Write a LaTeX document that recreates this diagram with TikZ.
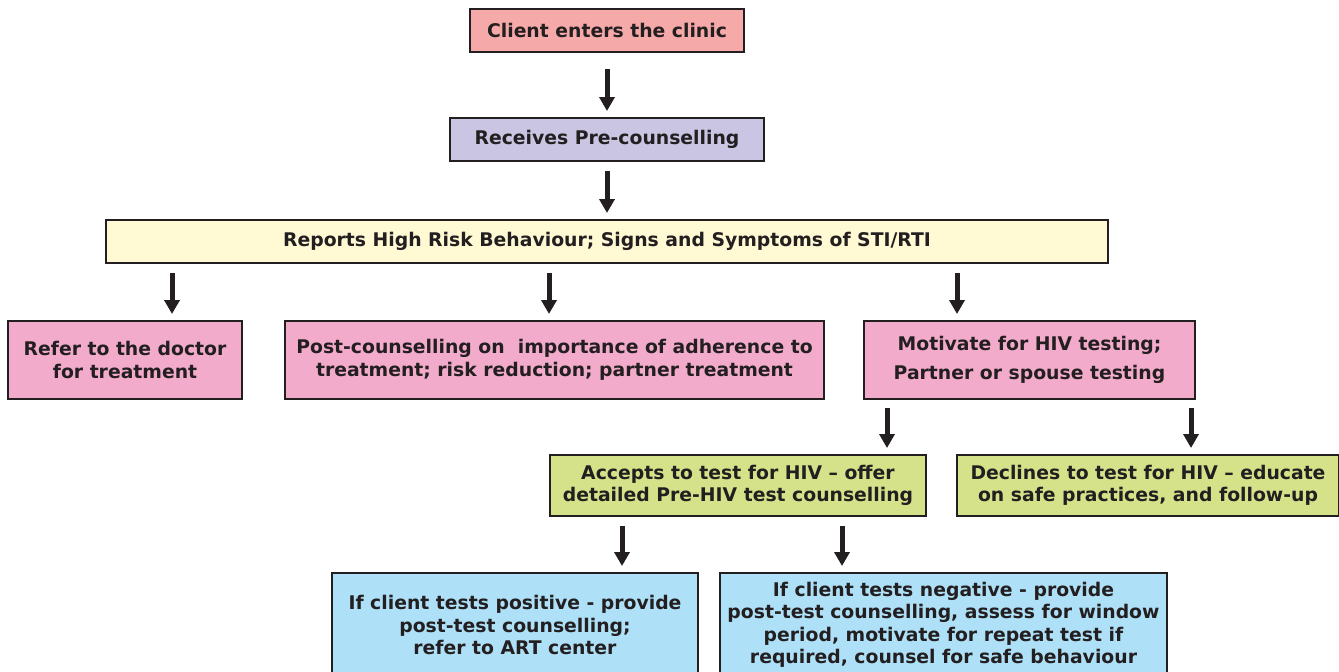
\documentclass[tikz,border=0pt]{standalone}
\usepackage{fontspec}
\setmainfont{DejaVu Sans}
\usetikzlibrary{arrows.meta}
\definecolor{inkc}{HTML}{231F20}
\definecolor{clientc}{HTML}{F6A9A9}
\definecolor{prec}{HTML}{C9C5E2}
\definecolor{riskc}{HTML}{FFF9D4}
\definecolor{pinkc}{HTML}{F3ABCC}
\definecolor{greenc}{HTML}{D5E28A}
\definecolor{bluec}{HTML}{AEE0F8}
\tikzset{
  box/.style={draw=inkc, line width=2pt, text=inkc, align=center, inner sep=0pt,
    font=\bfseries\fontsize{18.8}{22.5}\selectfont},
  arr/.style={draw=inkc, line width=5pt, -{Triangle[width=15pt,length=14pt]},
    shorten <=9pt, shorten >=6pt}
}
\begin{document}
\begin{tikzpicture}[x=1pt,y=-1pt]
\useasboundingbox (0,0) rectangle (1339,672);
\node (client) at (607,30.5) [box, fill=clientc, minimum width=274pt, minimum height=43pt] {Client enters the clinic};
\node (pre) at (607,139.5) [box, fill=prec, minimum width=314pt, minimum height=43pt] {Receives Pre-counselling};
\node (risk) at (607,241.5) [box, fill=riskc, minimum width=1002pt, minimum height=43pt] {Reports High Risk Behaviour; Signs and Symptoms of STI/RTI};
\node (doctor) at (125,360) [box, fill=pinkc, minimum width=234pt, minimum height=78pt] {Refer to the doctor\\for treatment};
\node (post) at (554.5,360) [box, fill=pinkc, minimum width=539pt, minimum height=78pt] {Post-counselling on \ importance of adherence to\\treatment; risk reduction; partner treatment};
\node (motivate) at (1029.5,360) [box, fill=pinkc, minimum width=331pt, minimum height=78pt] {Motivate for HIV testing;\\[6pt]Partner or spouse testing};
\node (accepts) at (738,485.5) [box, fill=greenc, minimum width=376pt, minimum height=61pt] {Accepts to test for HIV -- offer\\detailed Pre-HIV test counselling};
\node (declines) at (1148,485.5) [box, fill=greenc, minimum width=382pt, minimum height=61pt] {Declines to test for HIV -- educate\\on safe practices, and follow-up};
\node (positive) at (515,625) [box, fill=bluec, minimum width=366pt, minimum height=104pt] {If client tests positive - provide\\post-test counselling;\\refer to ART center};
\node (negative) at (943.5,625) [box, fill=bluec, minimum width=447pt, minimum height=104pt] {If client tests negative - provide\\post-test counselling, assess for window\\period, motivate for repeat test if\\required, counsel for safe behaviour};

% arrow ends
\coordinate (toDoctor) at ([xshift=47pt]doctor.north);
\coordinate (toPost) at ([xshift=-5.5pt]post.north);
\coordinate (toMotivate) at ([xshift=-72.5pt]motivate.north);
\coordinate (toAccepts) at ([xshift=149pt]accepts.north);
\coordinate (toDeclines) at ([xshift=43pt]declines.north);
\coordinate (toPositive) at ([xshift=107pt]positive.north);
\coordinate (toNegative) at ([xshift=-101.5pt]negative.north);

\draw[arr, shorten <=16pt] (client) -- (pre);
\draw[arr] (pre) -- (risk);
\draw[arr] (risk.south -| toDoctor) -- (toDoctor);
\draw[arr] (risk.south -| toPost) -- (toPost);
\draw[arr] (risk.south -| toMotivate) -- (toMotivate);
\draw[arr, shorten <=8pt] (motivate.south -| toAccepts) -- (toAccepts);
\draw[arr, shorten <=8pt] (motivate.south -| toDeclines) -- (toDeclines);
\draw[arr] (accepts.south -| toPositive) -- (toPositive);
\draw[arr] (accepts.south -| toNegative) -- (toNegative);
\end{tikzpicture}
\end{document}
